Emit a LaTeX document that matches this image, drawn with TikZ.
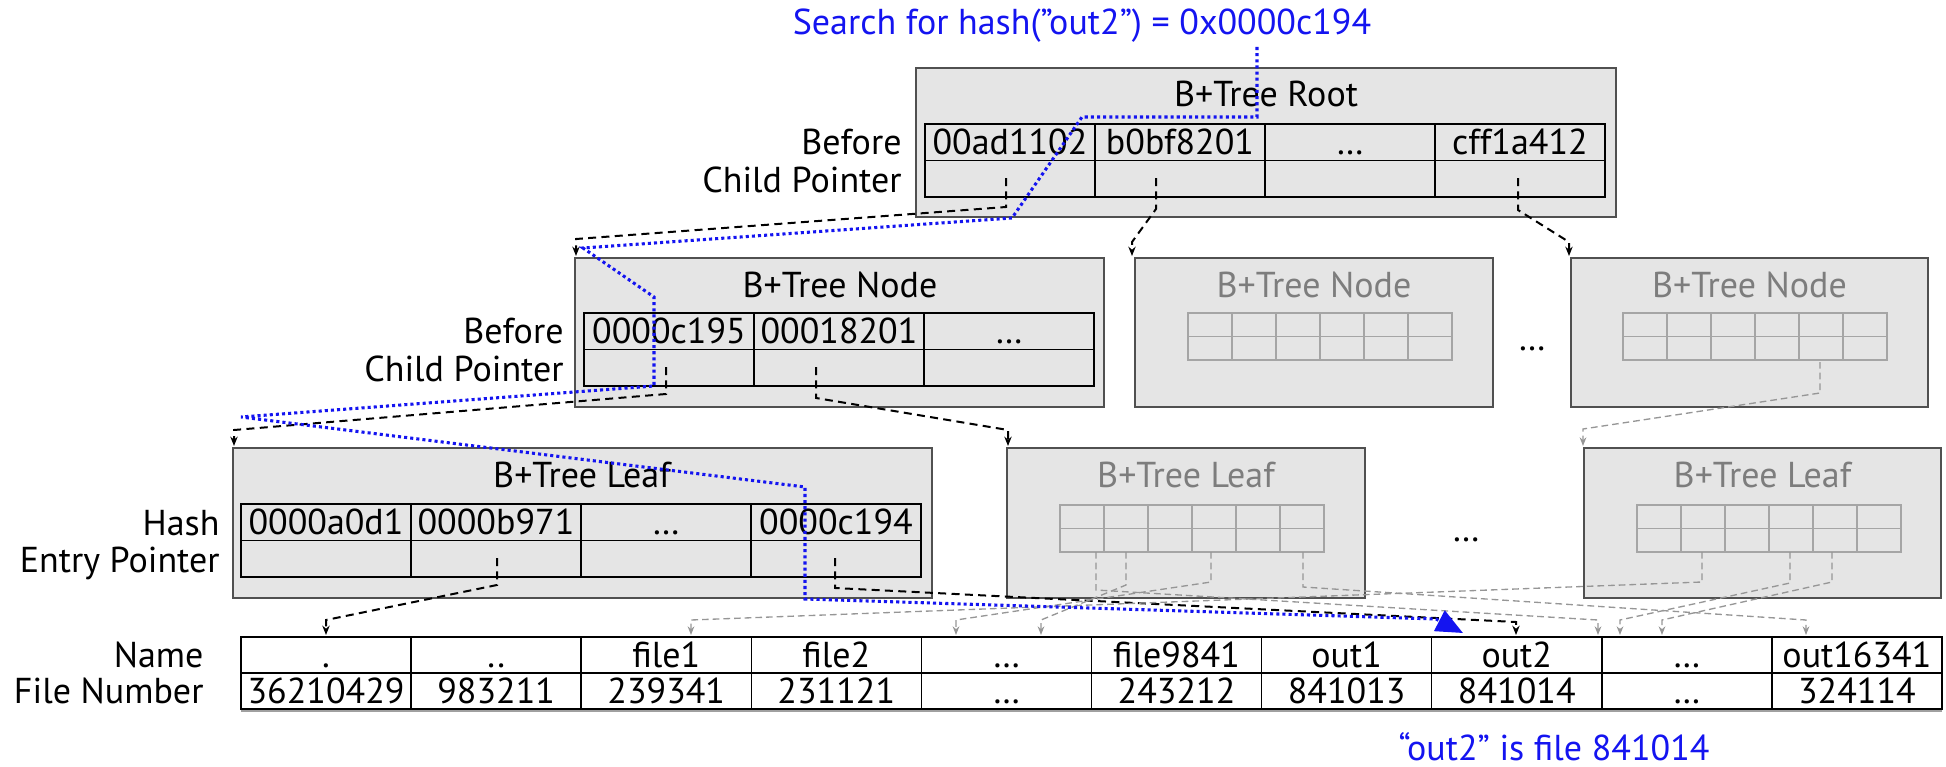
\documentclass[tikz,border=0pt]{standalone}
\usepackage{fontspec}
\setmainfont{PT Sans}
\usetikzlibrary{arrows.meta,calc}

\tikzset{every picture/.style={line width=0.75pt}}
\tikzset{
  blockbox/.style={draw={rgb, 255:red, 80; green, 80; blue, 80 }, fill={rgb, 255:red, 229; green, 229; blue, 229 }, line width=1.5},
  tablines/.style={draw=black, line width=1.1},
  ghostlines/.style={draw={rgb, 255:red, 165; green, 165; blue, 165 }, line width=1.1},
  txt/.style={anchor=base, inner sep=0.75pt, font=\fontsize{27}{32}\selectfont},
  lbl/.style={txt, anchor=base east},
  ghosttxt/.style={txt, text={rgb, 255:red, 125; green, 125; blue, 125 }},
  bluetxt/.style={txt, text={rgb, 255:red, 20; green, 20; blue, 240 }},
  ptr/.style={draw=black, line width=1.5, dash pattern=on 6pt off 4pt, -{Stealth[length=7pt,width=5.5pt]}},
  ghostptr/.style={draw={rgb, 255:red, 150; green, 150; blue, 150 }, line width=1, dash pattern=on 5pt off 3pt, -{Stealth[length=6.5pt,width=5pt]}},
  lookup/.style={draw={rgb, 255:red, 20; green, 20; blue, 240 }, line width=2.3, dash pattern=on 2.3pt off 2.3pt, -{Triangle[length=20pt,width=17pt]}},
}

\begin{document}
\begin{tikzpicture}[x=0.75pt,y=0.75pt,yscale=-1,xscale=1]
\useasboundingbox (0,0) rectangle (1946,767);

%Shape: Rectangle [root]
\draw [blockbox] (916,68) rectangle (1616,217);
\draw [tablines] (925,124) rectangle (1605,197) (925,160.5) -- (1605,160.5);
\draw [tablines] (1095,124) -- (1095,197) (1265,124) -- (1265,197) (1435,124) -- (1435,197);
%Shape: Rectangle [inner node]
\draw [blockbox] (575,258) rectangle (1104,407);
\draw [tablines] (584,313) rectangle (1094,386) (584,349.5) -- (1094,349.5);
\draw [tablines] (754,313) -- (754,386) (924,313) -- (924,386);
%Shape: Rectangle [leaf]
\draw [blockbox] (233,448) rectangle (932,598);
\draw [tablines] (241,504) rectangle (921,577) (241,540.5) -- (921,540.5);
\draw [tablines] (411,504) -- (411,577) (581,504) -- (581,577) (751,504) -- (751,577);
%Shape: Rectangle [other nodes and leaves]
\draw [blockbox] (1135,258) rectangle (1493,407);
\draw [blockbox] (1571,258) rectangle (1928,407);
\draw [blockbox] (1007,448) rectangle (1365,598);
\draw [blockbox] (1584,448) rectangle (1941,598);
\foreach \x/\y in {1188/313,1623/313,1060/505,1637/505}{
  \draw [ghostlines] (\x,\y) rectangle ++(264,47) (\x,\y+23.5) -- ++(264,0);
  \foreach \k in {1,...,5} \draw [ghostlines] (\x+44*\k,\y) -- ++(0,47);
}
%Shape: Table [directory]
\draw [tablines, fill=white] (241,637) rectangle (1942,709) (241,673) -- (1942,673);
\foreach \k in {1,...,9} \draw [tablines] (241+170.1*\k,637) -- ++(0,72);
\draw [color={rgb, 255:red, 160; green, 160; blue, 160 }, line width=1] (241,711) -- (1942,711);

% Text Node
\draw (1082,35) node [bluetxt] (search) {Search for hash(”out2”) = 0x0000c194};
% Text Node
\draw (1554,760) node [bluetxt] (found) {“out2” is file 841014};
% Text Node
\draw (1266,107) node [txt] (roottitle) {B+Tree Root};
\draw (840,297) node [txt] (nodetitle) {B+Tree Node};
\draw (1314,297) node [ghosttxt] (nodetitleb) {B+Tree Node};
\draw (1749.5,297) node [ghosttxt] (nodetitlec) {B+Tree Node};
\draw (582,487) node [txt] (leaftitle) {B+Tree Leaf};
\draw (1186,487) node [ghosttxt] (leaftitleb) {B+Tree Leaf};
\draw (1762.5,487) node [ghosttxt] (leaftitlec) {B+Tree Leaf};
\draw (1532,350) node [txt] (nodegap) {…};
\draw (1466,541) node [txt] (leafgap) {…};
% Text Node
\draw (903,154) node [lbl] (rootkeylbl) {Before};
\draw (903,192) node [lbl] (rootptrlbl) {Child Pointer};
\draw (565,343) node [lbl] (nodekeylbl) {Before};
\draw (565,381) node [lbl] (nodeptrlbl) {Child Pointer};
\draw (221,535) node [lbl] (leafkeylbl) {Hash};
\draw (221,572) node [lbl] (leafptrlbl) {Entry Pointer};
\draw (205,667) node [lbl] (namelbl) {Name};
\draw (205,703) node [lbl] (numlbl) {File Number};
% Text Node
\draw (1010,154) node [txt] (rk1) {00ad1102};
\draw (1180,154) node [txt] (rk2) {b0bf8201};
\draw (1350,154) node [txt] (rk3) {…};
\draw (1520,154) node [txt] (rk4) {cff1a412};
\draw (669,343) node [txt] (nk1) {0000c195};
\draw (839,343) node [txt] (nk2) {00018201};
\draw (1009,343) node [txt] (nk3) {…};
\draw (326,534) node [txt] (lk1) {0000a0d1};
\draw (496,534) node [txt] (lk2) {0000b971};
\draw (666,534) node [txt] (lk3) {…};
\draw (836,534) node [txt] (lk4) {0000c194};
% Text Node
\draw (326.05,667) node [txt] (nm1) {.};
\draw (496.15,667) node [txt] (nm2) {..};
\draw (666.25,667) node [txt] (nm3) {file1};
\draw (836.35,667) node [txt] (nm4) {file2};
\draw (1006.45,667) node [txt] (nm5) {…};
\draw (1176.55,667) node [txt] (nm6) {file9841};
\draw (1346.65,667) node [txt] (nm7) {out1};
\draw (1516.75,667) node [txt] (nm8) {out2};
\draw (1686.85,667) node [txt] (nm9) {…};
\draw (1856.95,667) node [txt] (nm10) {out16341};
\draw (326.05,703) node [txt] (fn1) {36210429};
\draw (496.15,703) node [txt] (fn2) {983211};
\draw (666.25,703) node [txt] (fn3) {239341};
\draw (836.35,703) node [txt] (fn4) {231121};
\draw (1006.45,703) node [txt] (fn5) {…};
\draw (1176.55,703) node [txt] (fn6) {243212};
\draw (1346.65,703) node [txt] (fn7) {841013};
\draw (1516.75,703) node [txt] (fn8) {841014};
\draw (1686.85,703) node [txt] (fn9) {…};
\draw (1856.95,703) node [txt] (fn10) {324114};

% pointer ends
\coordinate (rp1) at (1006,178);
\coordinate (rp2) at (1156,178);
\coordinate (rp4) at (1518,178);
\coordinate (np1) at (666,367);
\coordinate (np2) at (816,367);
\coordinate (lp2) at (497,558);
\coordinate (lp4) at (835,558);
\coordinate (gn5) at (1820,362);
\coordinate (ga1) at (1096,552);
\coordinate (ga2) at (1126,552);
\coordinate (ga4) at (1211,552);
\coordinate (ga6) at (1303,552);
\coordinate (gb2) at (1702,552);
\coordinate (gb4) at (1790,552);
\coordinate (gb5) at (1832,552);
% pointer targets
\coordinate (tn1) at (576,256);
\coordinate (tn2) at (1132,256);
\coordinate (tn3) at (1569,256);
\coordinate (tl1) at (234,446);
\coordinate (tl2) at (1008,446);
\coordinate (tl3) at (1583,446);
\coordinate (te1) at (326,635);
\coordinate (te3) at (691,635);
\coordinate (te5a) at (956,635);
\coordinate (te5b) at (1041,635);
\coordinate (te8) at (1516,635);
\coordinate (te8b) at (1598,635);
\coordinate (te9a) at (1620,635);
\coordinate (te9b) at (1662,635);
\coordinate (te10) at (1806,635);

%Straight Lines [child pointers]
\draw [ptr] (rp1) -- ++(0,29) -- ($(tn1)+(0,-17)$) -- (tn1);
\draw [ptr] (rp2) -- ++(0,31) -- ($(tn2)+(0,-14)$) -- (tn2);
\draw [ptr] (rp4) -- ++(0,32) -- ($(tn3)+(0,-14)$) -- (tn3);
\draw [ptr] (np1) -- ++(0,27) -- ($(tl1)+(0,-16)$) -- (tl1);
\draw [ptr] (np2) -- ++(0,31) -- ($(tl2)+(0,-16)$) -- (tl2);
\draw [ghostptr] (gn5) -- ++(0,31) -- ($(tl3)+(0,-17)$) -- (tl3);
%Straight Lines [entry pointers]
\draw [ptr] (lp2) -- ++(0,27) -- ($(te1)+(0,-15)$) -- (te1);
\draw [ptr] (lp4) -- ++(0,30) -- ($(te8)+(0,-13)$) -- (te8);
\draw [ghostptr] (ga1) -- ++(0,38) -- ($(te8b)+(0,-15)$) -- (te8b);
\draw [ghostptr] (ga2) -- ++(0,33) -- ($(te5b)+(0,-15)$) -- (te5b);
\draw [ghostptr] (ga4) -- ++(0,30) -- ($(te5a)+(0,-15)$) -- (te5a);
\draw [ghostptr] (ga6) -- ++(0,35) -- ($(te10)+(0,-15)$) -- (te10);
\draw [ghostptr] (gb2) -- ++(0,30) -- ($(te3)+(0,-15)$) -- (te3);
\draw [ghostptr] (gb4) -- ++(0,31) -- ($(te9a)+(0,-15)$) -- (te9a);
\draw [ghostptr] (gb5) -- ++(0,30) -- ($(te9b)+(0,-15)$) -- (te9b);

%Straight Lines [lookup path]
\coordinate (hs) at (1257,47);
\coordinate (hit) at (1463,633);
\draw [lookup] (hs) -- (1257,117) -- (1082,117) -- (1012,218) -- (583,248) -- (654,297) -- (654,386) -- (241,417) -- (805,487) -- (805,599) -- (1436,619) -- (hit);

\end{tikzpicture}
\end{document}
